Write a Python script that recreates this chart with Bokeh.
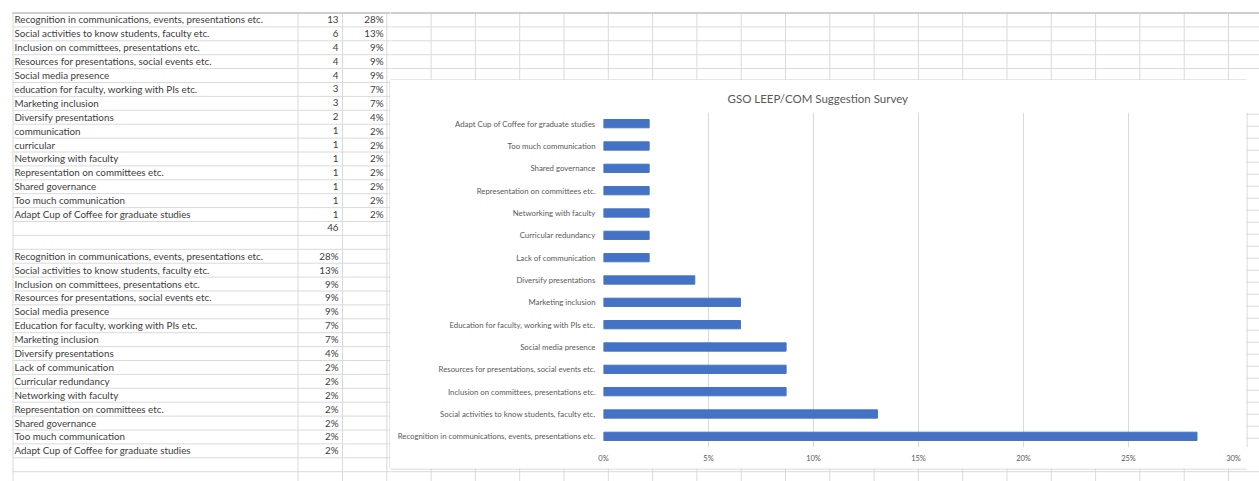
import numpy as np
from bokeh.plotting import figure
from bokeh.layouts import row, column
from bokeh.models import FactorRange, Range1d, FixedTicker, NumeralTickFormatter, Title
from bokeh.core.properties import value
from bokeh.embed import file_html
from bokeh.resources import INLINE

# ---------------- data ----------------
raw_labels = [
    "Recognition in communications, events, presentations etc.",
    "Social activities to know students, faculty etc.",
    "Inclusion on committees, presentations etc.",
    "Resources for presentations, social events etc.",
    "Social media presence",
    "education for faculty, working with PIs etc.",
    "Marketing inclusion",
    "Diversify presentations",
    "communication",
    "curricular",
    "Networking with faculty",
    "Representation on committees etc.",
    "Shared governance",
    "Too much communication",
    "Adapt Cup of Coffee for graduate studies",
]
counts = [13, 6, 4, 4, 4, 3, 3, 2, 1, 1, 1, 1, 1, 1, 1]
total_count = 46
pct_labels = ["28%", "13%", "9%", "9%", "9%", "7%", "7%", "4%",
              "2%", "2%", "2%", "2%", "2%", "2%", "2%"]
summary_labels = [
    "Recognition in communications, events, presentations etc.",
    "Social activities to know students, faculty etc.",
    "Inclusion on committees, presentations etc.",
    "Resources for presentations, social events etc.",
    "Social media presence",
    "Education for faculty, working with PIs etc.",
    "Marketing inclusion",
    "Diversify presentations",
    "Lack of communication",
    "Curricular redundancy",
    "Networking with faculty",
    "Representation on committees etc.",
    "Shared governance",
    "Too much communication",
    "Adapt Cup of Coffee for graduate studies",
]
shares = [c / total_count for c in counts]
x_ticks = [0.0, 0.05, 0.10, 0.15, 0.20, 0.25, 0.30]
chart_title = "GSO LEEP/COM Suggestion Survey"

# ---------------- sheet geometry (styling) ----------------
W, H = 1259, 481
ROW0, ROW_H = 12.0, 13.9
row_lines = [ROW0 + ROW_H * k for k in range(34)]
col_lines = [12.0, 297.0, 341.5, 385.8] + [385.8 + 44.3 * k for k in range(1, 21)]
BX0, BY0, BX1, BY1 = 390, 80, 1246, 468
GRID = "#dadada"
TXT = "#3c3c3c"
FONT = value("Lato")
TFS = "9.8px"


def sheet_fig(x0, x1, y0, y1):
    p = figure(width=int(x1 - x0), height=int(y1 - y0),
               x_range=Range1d(x0, x1), y_range=Range1d(y1, y0),
               x_axis_type=None, y_axis_type=None, title=None,
               toolbar_location=None, output_backend="svg", min_border=0)
    p.grid.visible = False
    p.outline_line_color = None
    p.background_fill_color = "white"
    p.border_fill_color = "white"
    hx0 = max(x0, 12.0)
    ys = [y + 0.5 for y in row_lines if y0 - 1 <= y <= y1]
    if ys:
        p.segment(x0=[hx0] * len(ys), x1=[x1] * len(ys), y0=ys, y1=ys,
                  line_color=GRID, line_width=1)
    xs = [x + 0.5 for x in col_lines if x0 - 1 <= x <= x1]
    if xs:
        p.segment(x0=xs, x1=xs, y0=[max(y0, ROW0)] * len(xs), y1=[y1] * len(xs),
                  line_color=GRID, line_width=1)
    if y0 <= ROW0 <= y1:
        p.segment(x0=[hx0], x1=[x1], y0=[ROW0 + 0.5], y1=[ROW0 + 0.5],
                  line_color="#c4c4c4", line_width=1.5)
    return p


# left part: tables
L = sheet_fig(0, BX0, 0, H)
top_rows = np.arange(len(raw_labels))
yc_top = [ROW0 + ROW_H * (k + 0.5) for k in top_rows]
L.text(x=[14] * len(raw_labels), y=yc_top, text=raw_labels, text_font=FONT,
       text_font_size=TFS, text_align="left", text_baseline="middle", text_color=TXT)
L.text(x=[338] * len(counts), y=yc_top, text=[str(c) for c in counts], text_font=FONT,
       text_font_size=TFS, text_align="right", text_baseline="middle", text_color=TXT)
L.text(x=[383] * len(pct_labels), y=yc_top, text=pct_labels, text_font=FONT,
       text_font_size=TFS, text_align="right", text_baseline="middle", text_color=TXT)
L.text(x=[338], y=[ROW0 + ROW_H * (len(counts) + 0.5)], text=[str(total_count)], text_font=FONT,
       text_font_size=TFS, text_align="right", text_baseline="middle", text_color=TXT)
start2 = len(counts) + 2
yc_bot = [ROW0 + ROW_H * (start2 + k + 0.5) for k in range(len(summary_labels))]
L.text(x=[14] * len(summary_labels), y=yc_bot, text=summary_labels, text_font=FONT,
       text_font_size=TFS, text_align="left", text_baseline="middle", text_color=TXT)
L.text(x=[338] * len(pct_labels), y=yc_bot, text=pct_labels, text_font=FONT,
       text_font_size=TFS, text_align="right", text_baseline="middle", text_color=TXT)
L.segment(x0=[BX0 - 0.5], x1=[BX0 - 0.5], y0=[BY0], y1=[BY1], line_color="#cfcfcf")

# strips around the chart box
T = sheet_fig(BX0, W, 0, BY0)
T.segment(x0=[BX0], x1=[BX1], y0=[BY0 - 0.5], y1=[BY0 - 0.5], line_color="#cfcfcf")
S = sheet_fig(BX1, W, BY0, BY1)
S.segment(x0=[BX1 + 0.5], x1=[BX1 + 0.5], y0=[BY0], y1=[BY1], line_color="#cfcfcf")
B = sheet_fig(BX0, W, BY1, H)
B.segment(x0=[BX0], x1=[BX1], y0=[BY1 + 0.5], y1=[BY1 + 0.5], line_color="#cfcfcf")

# ---------------- chart ----------------
C = figure(width=BX1 - BX0, height=BY1 - BY0,
           y_range=FactorRange(factors=summary_labels), x_range=Range1d(0, 0.30),
           title=None, toolbar_location=None, output_backend="svg",
           min_border_left=213, min_border_right=13, min_border_top=32, min_border_bottom=21)
C.hbar(y=summary_labels, left=0, right=shares, height=0.37,
       fill_color="#4472C4", line_color="#4472C4")
C.outline_line_color = None
C.background_fill_color = "white"
C.border_fill_color = "white"
C.ygrid.visible = False
C.xgrid.ticker = FixedTicker(ticks=x_ticks)
C.xgrid.grid_line_color = "#d9d9d9"
C.xaxis.ticker = FixedTicker(ticks=x_ticks)
C.xaxis.formatter = NumeralTickFormatter(format="0%")
for ax in (C.xaxis[0], C.yaxis[0]):
    ax.axis_line_color = None
    ax.major_tick_line_color = None
    ax.minor_tick_line_color = None
    ax.major_tick_out = 0
    ax.major_tick_in = 0
    ax.minor_tick_out = 0
    ax.minor_tick_in = 0
    ax.major_label_text_color = "#595959"
    ax.major_label_text_font = "Lato"
C.xaxis.major_label_text_font_size = "7.5px"
C.xaxis.major_label_standoff = 6
C.yaxis.major_label_text_font_size = "7.8px"
C.yaxis.major_label_standoff = 8
C.add_layout(Title(text=chart_title, align="left", offset=124, text_font_size="11.5px",
                   text_color="#595959", text_font="Lato", text_font_style="normal",
                   standoff=15), "above")

layout = row(L, column(T, row(C, S), B))
open("out.html", "w").write(file_html(layout, INLINE))
